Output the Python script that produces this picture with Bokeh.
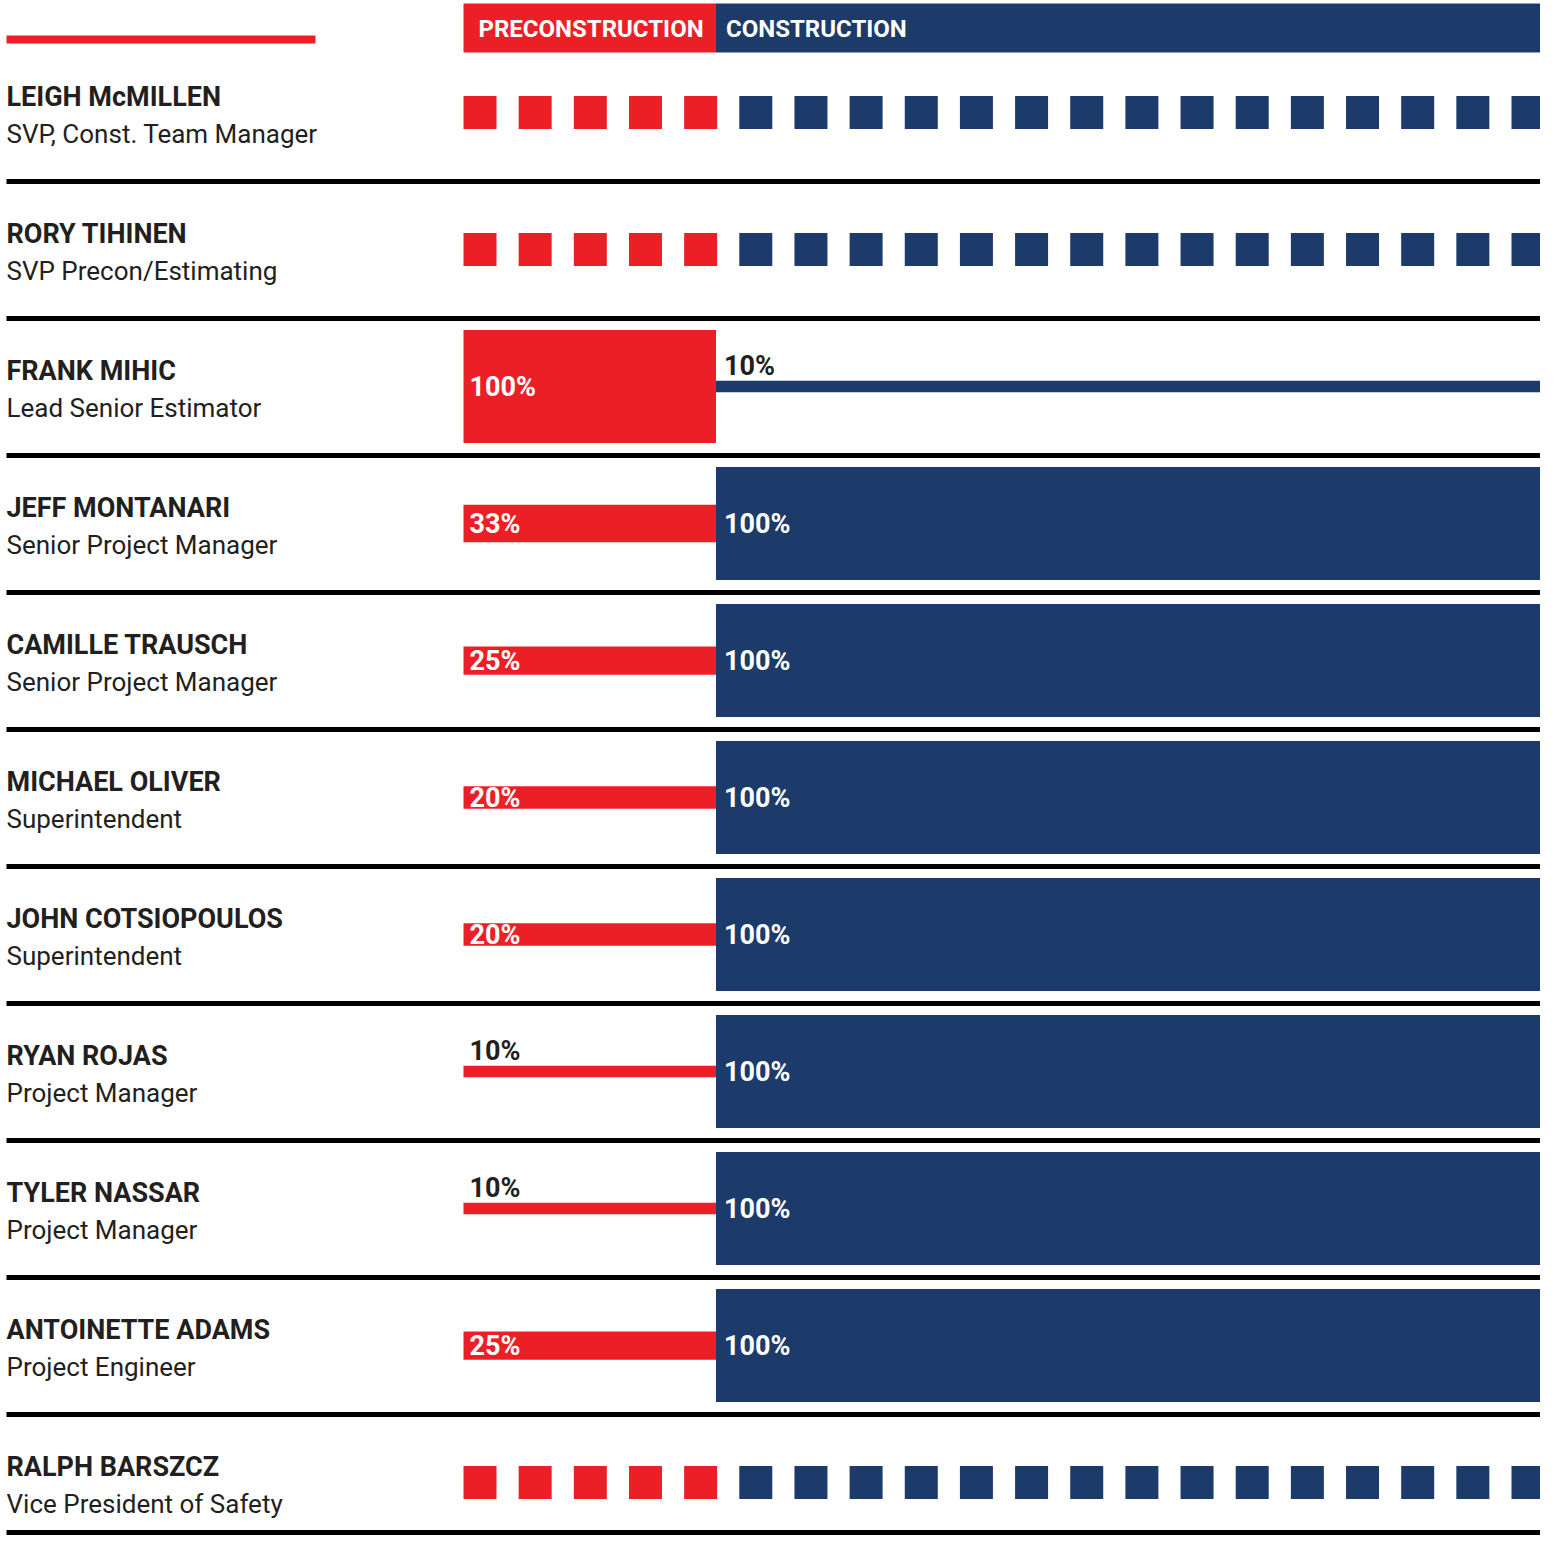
from bokeh.plotting import figure
from bokeh.models import Range1d, ColumnDataSource
from bokeh.core.properties import value
from bokeh.embed import file_html
from bokeh.resources import INLINE

# ---------------- data ----------------
names = ["LEIGH McMILLEN", "RORY TIHINEN", "FRANK MIHIC", "JEFF MONTANARI",
         "CAMILLE TRAUSCH", "MICHAEL OLIVER", "JOHN COTSIOPOULOS", "RYAN ROJAS",
         "TYLER NASSAR", "ANTOINETTE ADAMS", "RALPH BARSZCZ"]
titles = ["SVP, Const. Team Manager", "SVP Precon/Estimating", "Lead Senior Estimator",
          "Senior Project Manager", "Senior Project Manager", "Superintendent",
          "Superintendent", "Project Manager", "Project Manager", "Project Engineer",
          "Vice President of Safety"]
involvement = ["periodic", "periodic", "percent", "percent", "percent", "percent",
               "percent", "percent", "percent", "percent", "periodic"]
precon_pct = [None, None, 100, 33, 25, 20, 20, 10, 10, 25, None]
con_pct = [None, None, 10, 100, 100, 100, 100, 100, 100, 100, None]
phases = ["PRECONSTRUCTION", "CONSTRUCTION"]
phase_periods = [5, 15]

# ---------------- style / layout ----------------
RED = "#EC1F27"
NAVY = "#1C3A6A"
DARK = "#231F20"
FONT = "Roboto"

W, H = 1540, 1535
X0, SPLIT, X1 = 463.0, 715.5, 1544.0
ROW0, PITCH = 112.0, 137.0
BAR_H = 113.0
SQ = 33.0
TDY = -10  # text baseline nudge

p = figure(width=W, height=H, output_backend="svg", toolbar_location=None,
           x_range=Range1d(0, W), y_range=Range1d(H, 0),
           min_border=0, tools="")
p.axis.visible = False
p.grid.visible = False
p.outline_line_color = None
p.background_fill_color = "white"
p.border_fill_color = "white"

# header
p.quad(left=[X0, SPLIT], right=[SPLIT, X1], top=[3, 3], bottom=[52, 52],
       fill_color=[RED, NAVY], line_color=None)
p.text(x=[X0 + 15, SPLIT + 10], y=[38 + TDY, 38 + TDY], text=phases,
       text_color="white", text_font=value(FONT), text_font_style="bold",
       text_font_size="24px", text_baseline="alphabetic")
# red accent line
p.quad(left=[6], right=[315], top=[35], bottom=[43], fill_color=RED, line_color=None)

rows_y = [ROW0 + i * PITCH for i in range(len(names))]

# names / titles
p.text(x=[6] * len(names), y=[y - 6 + TDY for y in rows_y], text=names,
       text_color=DARK, text_font=value(FONT), text_font_style="bold",
       text_font_size="27px", text_baseline="alphabetic")
p.text(x=[6] * len(titles), y=[y + 31 + TDY for y in rows_y], text=titles,
       text_color=DARK, text_font=value(FONT), text_font_style="normal",
       text_font_size="26px", text_baseline="alphabetic")

# separators (the last one sits on the bottom edge)
sep_y = [y + 69 for y in rows_y[:-1]] + [H - 3]
p.quad(left=[6] * len(sep_y), right=[1545] * len(sep_y),
       top=[y - 2.5 for y in sep_y], bottom=[y + 2.5 for y in sep_y],
       fill_color="black", line_color=None)

# periodic squares
n_total = sum(phase_periods)
step = (X1 - X0 - SQ) / (n_total - 1)
sq = dict(left=[], right=[], top=[], bottom=[], color=[])
for y, kind in zip(rows_y, involvement):
    if kind != "periodic":
        continue
    k = 0
    for ph, n in enumerate(phase_periods):
        for _ in range(n):
            l = X0 + k * step
            sq["left"].append(l)
            sq["right"].append(l + SQ)
            sq["top"].append(y - SQ / 2)
            sq["bottom"].append(y + SQ / 2)
            sq["color"].append(RED if ph == 0 else NAVY)
            k += 1
p.quad(left="left", right="right", top="top", bottom="bottom", fill_color="color",
       line_color=None, source=ColumnDataSource(sq))

# percent bars
bars = dict(left=[], right=[], top=[], bottom=[], color=[])
lab_in = dict(x=[], y=[], text=[])
lab_out = dict(x=[], y=[], text=[])
for y, kind, pp, cp in zip(rows_y, involvement, precon_pct, con_pct):
    if kind != "percent":
        continue
    for pct, l, r, col in ((pp, X0, SPLIT, RED), (cp, SPLIT, X1, NAVY)):
        h = pct / 100.0 * BAR_H
        bars["left"].append(l)
        bars["right"].append(r)
        bars["top"].append(y - h / 2)
        bars["bottom"].append(y + h / 2)
        bars["color"].append(col)
        lx = l + (6 if col == RED else 8)
        if pct >= 20:
            lab_in["x"].append(lx)
            lab_in["y"].append(y + 10 + TDY)
            lab_in["text"].append(f"{pct}%")
        else:
            lab_out["x"].append(lx)
            lab_out["y"].append(y - h / 2 - 5 + TDY)
            lab_out["text"].append(f"{pct}%")
p.quad(left="left", right="right", top="top", bottom="bottom", fill_color="color",
       line_color=None, source=ColumnDataSource(bars))
p.text(x="x", y="y", text="text", source=ColumnDataSource(lab_in),
       text_color="white", text_font=value(FONT), text_font_style="bold",
       text_font_size="27px", text_baseline="alphabetic")
p.text(x="x", y="y", text="text", source=ColumnDataSource(lab_out),
       text_color=DARK, text_font=value(FONT), text_font_style="bold",
       text_font_size="27px", text_baseline="alphabetic")

open("out.html", "w").write(file_html(p, INLINE))
